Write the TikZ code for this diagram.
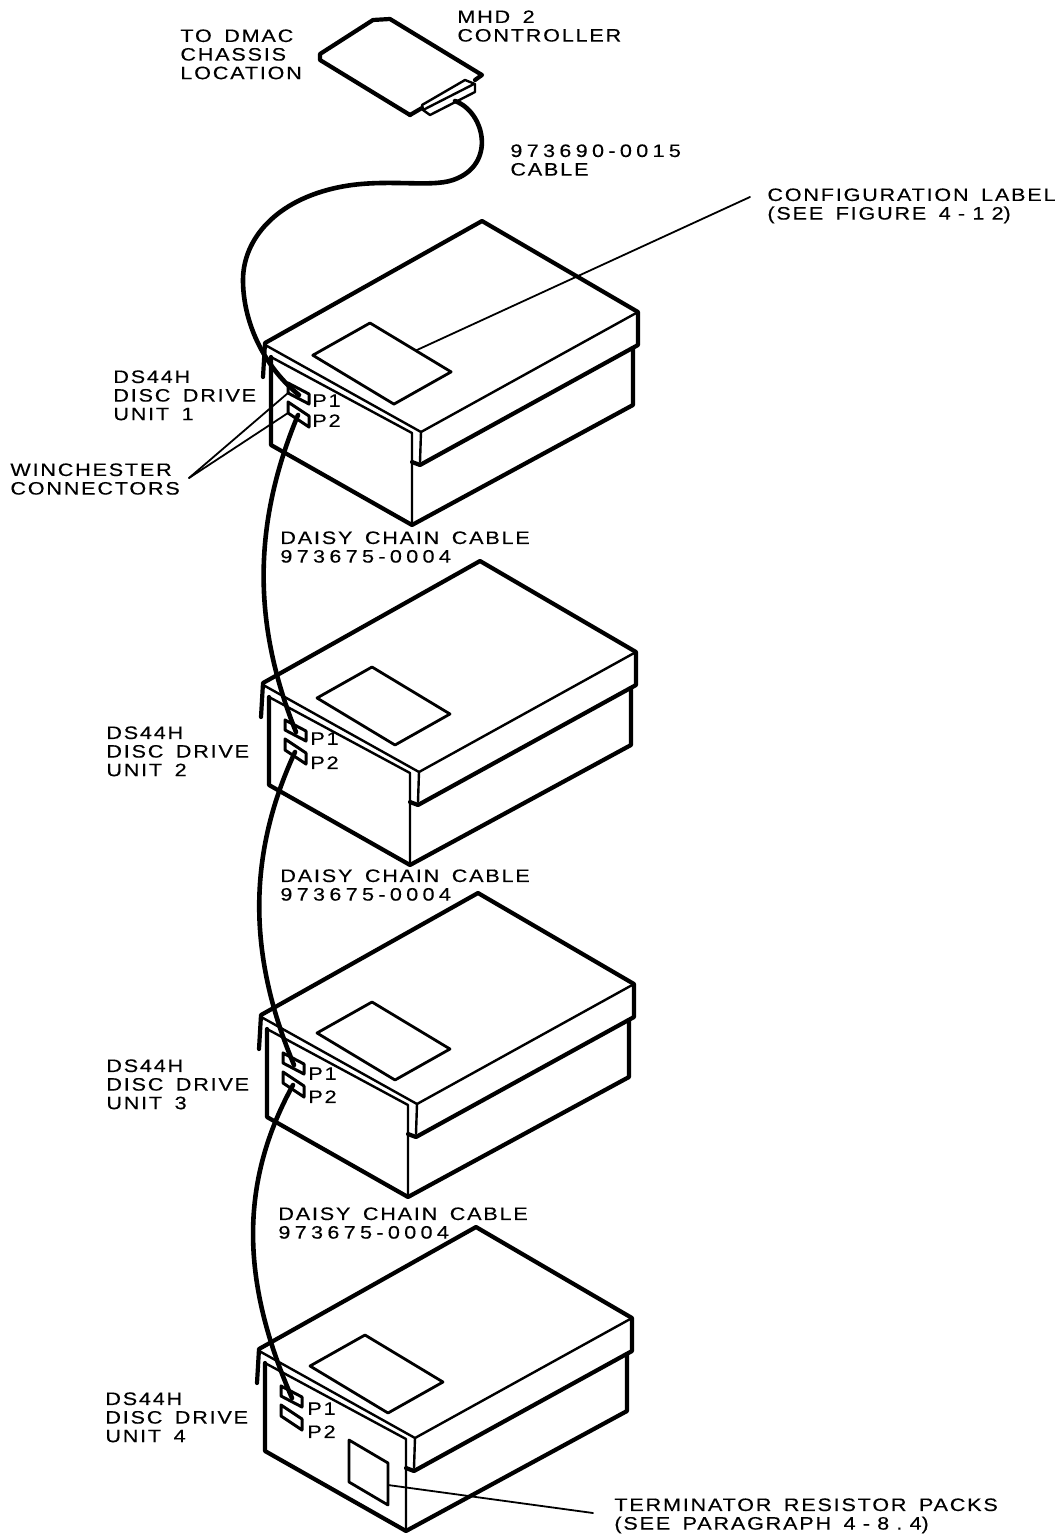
\documentclass[tikz,border=0pt]{standalone}
\usepackage{fontspec}
\setmainfont{Liberation Sans}
\newfontfamily\labfont[FakeStretch=1.2,LetterSpace=10,FakeBold=0.3,WordSpace=1.6]{Liberation Sans}
\newcommand{\numtxt}[1]{{\addfontfeature{LetterSpace=24}#1}}
\newcommand{\numwide}[1]{{\addfontfeature{LetterSpace=40}#1}}
\tikzset{
  lab/.style={anchor=north west,inner sep=0pt,align=left,font=\labfont\fontsize{9}{9.3}\selectfont,text=black},
  thick line/.style={line width=2.1pt,line join=round,line cap=round},
  mid line/.style={line width=1.2pt,line join=round,line cap=round},
  thin line/.style={line width=0.9pt,line join=round,line cap=round},
  cable/.style={line width=2.3pt,line cap=round},
}
% #1 name, #2 #3 box offset, #4 #5 top corner of the label plate, #6 #7 port offset, #8 plate scale
\newcommand{\drivebox}[8]{%
  \begin{scope}[shift={(#2,#3)}]
    \draw[thick line] (263,377) -- (265,343) -- (482,221) -- (638,312) -- (638,345) -- (420,465) -- (412,462);
    \draw[mid line] (267,346) -- (421,432) -- (638,312);
    \draw[mid line] (421,432) -- (420,462);
    \draw[mid line] (271,357) -- (412,433) -- (412,525);
    \draw[thick line] (271,357) -- (271,445) -- (412,525) -- (633,405) -- (633,348);
  \end{scope}
  \begin{scope}[shift={(#4,#5)},scale=#8]
    \draw[mid line,line width=1.4pt] (0,0) -- (78,47) -- (23,78) -- (-55,31) -- cycle;
    \coordinate (#1lab) at (44,26.5);
  \end{scope}
  \begin{scope}[shift={(#6,#7)}]
    \draw[thick line,line width=1.5pt] (288,383) -- (309,394) -- (309,404) -- (288,393) -- cycle;
    \draw[thick line,line width=1.5pt] (288,402) -- (309,416) -- (309,427) -- (288,413) -- cycle;
    \coordinate (#1pa) at (299,395);
    \coordinate (#1pb) at (298,415);
    \coordinate (#1pal) at (288,393);
    \coordinate (#1pbl) at (288,413);
  \end{scope}
}
\begin{document}
\begin{tikzpicture}[x=0.5pt,y=-0.5pt]
\useasboundingbox (0,0) rectangle (1062,1536);
\fill[white] (0,0) rectangle (1062,1536);

% controller
\draw[thick line] (410,115) -- (320,60) -- (320,54) -- (373,20) -- (390,19) -- (482,75) -- (475,80);
\draw[thick line] (410,115) -- (422,108);
\draw[mid line] (422,105) -- (465,80) -- (475,84) -- (475,92) -- (430,115) -- (423,110) -- cycle;
\draw[mid line] (423,110) -- (474,84);
\coordinate (ctrlout) at (455,101);

\drivebox{a}{0}{0}{370}{323}{0}{0}{1.04}
\drivebox{b}{-2}{340}{372}{667}{-3}{337}{1}
\drivebox{c}{-4}{672}{372}{1002}{-5}{670}{1}
\drivebox{d}{-6}{1006}{365}{1335}{-7}{1003}{1}

% terminator packs
\draw[mid line,line width=1.4pt] (349,1440) -- (388,1463) -- (388,1505) -- (349,1482) -- cycle;

% cables
\draw[cable] (ctrlout) .. controls (485,112) and (497,165) .. (453,180)
  .. controls (430,188) and (385,178) .. (340,187)
  .. controls (275,200) and (243,240) .. (243,280)
  .. controls (243,320) and (262,365) .. (apa);
\draw[cable] (apb) .. controls (250,530) and (255,630) .. (bpa);
\draw[cable] (bpb) .. controls (245,860) and (250,960) .. (cpa);
\draw[cable] (cpb) .. controls (235,1190) and (245,1290) .. (dpa);

% leaders
\coordinate (cfgend) at (750,197);
\coordinate (wchub) at (189,478);
\coordinate (termend) at (593,1513);
\coordinate (termstart) at (388,1485);
\draw[thin line] (alab) -- (cfgend);
\draw[thin line] (wchub) -- (apal);
\draw[thin line] (wchub) -- (apbl);
\draw[thin line] (termstart) -- (termend);

% labels
\node[lab] (t1) at (180,29) {TO DMAC\\CHASSIS\\LOCATION};
\node[lab] (t2) at (457,10) {MHD 2\\CONTROLLER};
\node[lab] (t3) at (510,144) {\numtxt{973690-0015}\\CABLE};
\node[lab] (t4) at (767,188) {CONFIGURATION LABEL\\(SEE FIGURE \numwide{4-12})};
\node[lab] (t5) at (113,370) {DS44H\\DISC DRIVE\\UNIT 1};
\node[lab] (t6) at (10,463) {WINCHESTER\\CONNECTORS};
\node[lab] (pa1) at (312,394) {P1};
\node[lab] (pa2) at (312,414) {P2};
\node[lab] (t7) at (280,531) {DAISY CHAIN CABLE\\\numtxt{973675-0004}};
\node[lab] (t8) at (106,726) {DS44H\\DISC DRIVE\\UNIT 2};
\node[lab] (pb1) at (310,732) {P1};
\node[lab] (pb2) at (310,756) {P2};
\node[lab] (t9) at (280,869) {DAISY CHAIN CABLE\\\numtxt{973675-0004}};
\node[lab] (t10) at (106,1059) {DS44H\\DISC DRIVE\\UNIT 3};
\node[lab] (pc1) at (308,1067) {P1};
\node[lab] (pc2) at (308,1090) {P2};
\node[lab] (t11) at (278,1207) {DAISY CHAIN CABLE\\\numtxt{973675-0004}};
\node[lab] (t12) at (105,1392) {DS44H\\DISC DRIVE\\UNIT 4};
\node[lab] (pd1) at (307,1402) {P1};
\node[lab] (pd2) at (307,1425) {P2};
\node[lab] (t13) at (614,1498) {TERMINATOR RESISTOR PACKS\\(SEE PARAGRAPH \numwide{4-8.4})};
\end{tikzpicture}
\end{document}
